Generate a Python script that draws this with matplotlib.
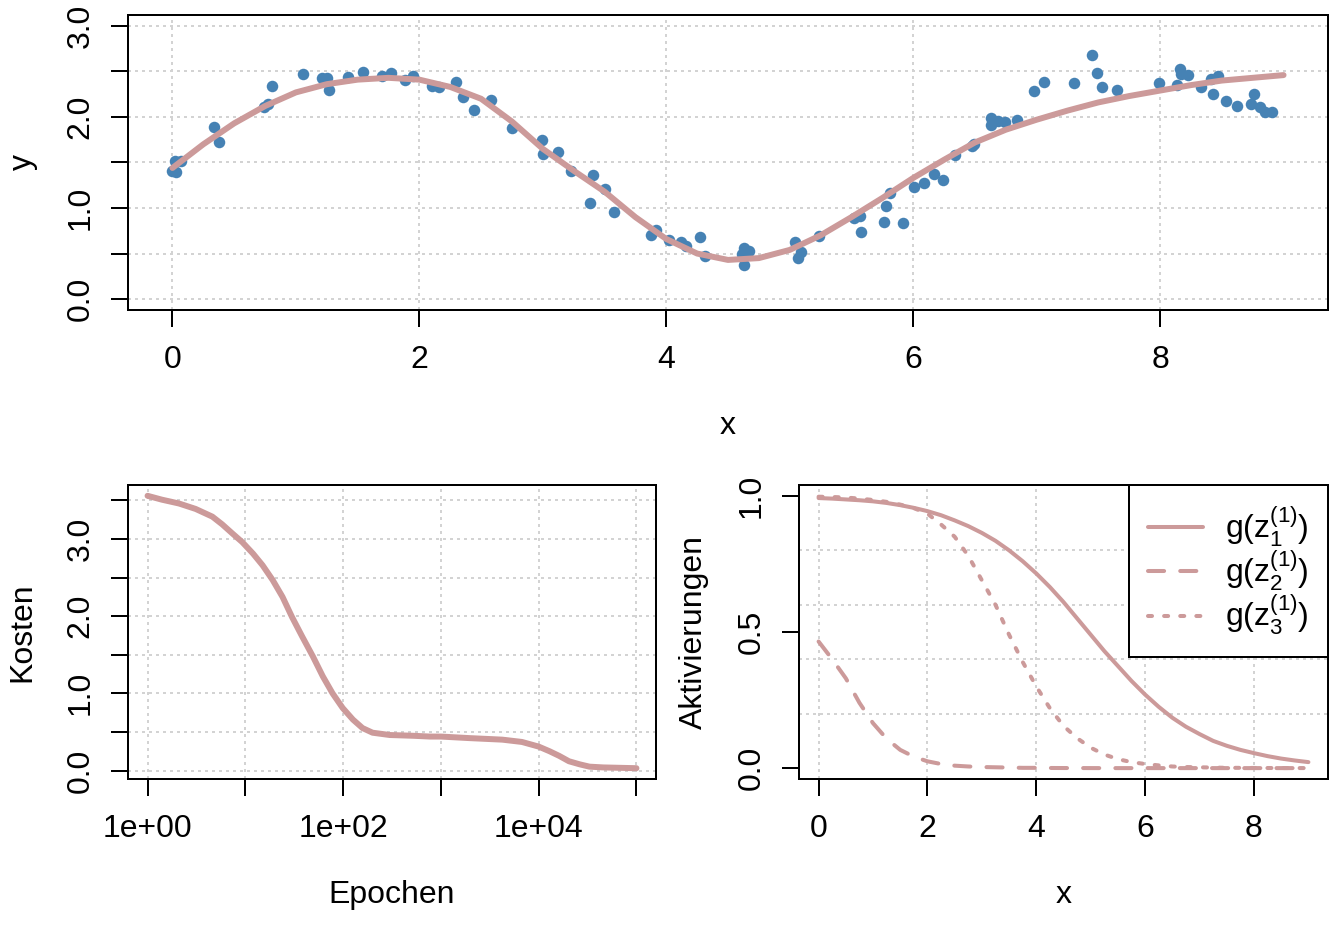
import matplotlib
matplotlib.use('Agg')
import matplotlib.pyplot as plt
import numpy as np

plt.rcParams['font.family'] = ['Liberation Sans', 'DejaVu Sans']
plt.rcParams['mathtext.fontset'] = 'custom'
plt.rcParams['mathtext.rm'] = 'Liberation Sans'
plt.rcParams['mathtext.it'] = 'Liberation Sans'
plt.rcParams['mathtext.default'] = 'regular'

# ---------------- data ----------------
# top panel: observed points
pts_x = [0.00, 0.02, 0.07, 0.03, 0.34, 0.38, 0.74, 0.77, 0.81, 1.06, 1.21, 1.25, 1.27,
         1.42, 1.54, 1.70, 1.77, 1.88, 1.95, 2.10, 2.16, 2.30, 2.35, 2.44, 2.58, 2.75,
         2.99, 3.00, 3.12, 3.23, 3.41, 3.50, 3.38, 3.58, 3.92, 3.88, 4.02, 4.12, 4.16,
         4.27, 4.31, 4.63, 4.67, 4.63, 4.61, 5.04, 5.09, 5.07, 5.24, 5.52, 5.57, 5.58,
         5.76, 5.78, 5.81, 5.92, 6.01, 6.09, 6.17, 6.24, 6.34, 6.48, 6.49, 6.63, 6.63,
         6.69, 6.74, 6.84, 6.98, 7.06, 7.30, 7.45, 7.49, 7.53, 7.65, 7.99, 8.14, 8.16,
         8.17, 8.23, 8.33, 8.41, 8.47, 8.43, 8.53, 8.62, 8.76, 8.74, 8.81, 8.85, 8.91]
pts_y = [1.41, 1.52, 1.52, 1.40, 1.89, 1.72, 2.11, 2.14, 2.34, 2.47, 2.43, 2.43, 2.30,
         2.44, 2.49, 2.45, 2.48, 2.41, 2.45, 2.34, 2.33, 2.38, 2.22, 2.08, 2.19, 1.88,
         1.75, 1.59, 1.62, 1.41, 1.36, 1.21, 1.06, 0.96, 0.76, 0.70, 0.65, 0.63, 0.58,
         0.68, 0.47, 0.56, 0.53, 0.37, 0.50, 0.63, 0.52, 0.45, 0.69, 0.89, 0.91, 0.74,
         0.85, 1.02, 1.16, 0.84, 1.23, 1.28, 1.37, 1.31, 1.58, 1.68, 1.70, 1.99, 1.91,
         1.96, 1.94, 1.97, 2.28, 2.38, 2.37, 2.68, 2.48, 2.33, 2.30, 2.37, 2.35, 2.53,
         2.47, 2.46, 2.33, 2.42, 2.45, 2.25, 2.18, 2.12, 2.25, 2.14, 2.11, 2.05, 2.05]

# top panel: fitted curve
fit_x = [0, 0.25, 0.5, 0.75, 1, 1.25, 1.5, 1.75, 2, 2.25, 2.5, 2.75, 3, 3.25, 3.5, 3.75,
         4, 4.25, 4.5, 4.75, 5, 5.25, 5.5, 5.75, 6, 6.25, 6.5, 6.75, 7, 7.25, 7.5, 7.75,
         8, 8.25, 8.5, 8.75, 9]
fit_y = [1.44, 1.70, 1.93, 2.12, 2.27, 2.36, 2.41, 2.43, 2.41, 2.33, 2.20, 1.95, 1.65,
         1.41, 1.18, 0.90, 0.66, 0.50, 0.43, 0.45, 0.54, 0.70, 0.90, 1.11, 1.33, 1.53,
         1.72, 1.86, 1.97, 2.07, 2.16, 2.23, 2.29, 2.35, 2.40, 2.43, 2.46]

# bottom left: cost over epochs
epochs = [1, 1.4, 2.1, 3.1, 4.6, 5.8, 7.4, 9.3, 12, 15, 19, 24, 30, 38, 49, 62, 78, 99,
          126, 158, 200, 300, 400, 525, 775, 1000, 1950, 4250, 6750, 10000, 12900,
          16200, 20400, 26300, 33100, 45700, 100000]
cost = [3.56, 3.51, 3.46, 3.39, 3.29, 3.19, 3.07, 2.96, 2.81, 2.66, 2.47, 2.25, 1.99,
        1.74, 1.48, 1.22, 1.00, 0.81, 0.66, 0.55, 0.49, 0.46, 0.455, 0.45, 0.44, 0.44,
        0.42, 0.40, 0.37, 0.31, 0.25, 0.19, 0.12, 0.08, 0.05, 0.04, 0.03]

# bottom right: activations
act_x = [0, 0.25, 0.5, 0.75, 1, 1.25, 1.5, 1.75, 2, 2.25, 2.5, 2.75, 3, 3.25, 3.5, 3.75,
         4, 4.25, 4.5, 4.75, 5, 5.25, 5.5, 5.75, 6, 6.25, 6.5, 6.75, 7, 7.25, 7.5, 7.75,
         8, 8.25, 8.5, 8.75, 9]
act_g1 = [0.992, 0.990, 0.987, 0.984, 0.980, 0.974, 0.966, 0.956, 0.944, 0.929, 0.910,
          0.889, 0.864, 0.835, 0.800, 0.760, 0.715, 0.665, 0.610, 0.550, 0.490, 0.430,
          0.375, 0.320, 0.270, 0.225, 0.185, 0.152, 0.125, 0.100, 0.082, 0.067, 0.055,
          0.044, 0.035, 0.028, 0.022]
act_g2 = [0.465, 0.400, 0.330, 0.240, 0.165, 0.108, 0.067, 0.042, 0.025, 0.015, 0.009,
          0.006, 0.004, 0.003, 0.002, 0.001, 0.001, 0.0005, 0.0003, 0.0002, 0.0001,
          0, 0, 0, 0, 0, 0, 0, 0, 0, 0, 0, 0, 0, 0, 0, 0]
act_g3 = [0.997, 0.996, 0.994, 0.990, 0.985, 0.978, 0.968, 0.955, 0.935, 0.895, 0.850,
          0.780, 0.690, 0.600, 0.490, 0.390, 0.300, 0.220, 0.155, 0.110, 0.075, 0.050,
          0.033, 0.022, 0.015, 0.010, 0.006, 0.004, 0.003, 0.002, 0.001, 0.001, 0.0005,
          0.0004, 0.0003, 0.0002, 0.0001]
legend_labels = [r'$g(z_1^{(1)})$', r'$g(z_2^{(1)})$', r'$g(z_3^{(1)})$']

# ---------------- style ----------------
FS = 23
COL_LINE = '#CC9A9A'
COL_PT = '#4682B4'
GRID = '#D3D3D3'
LW = 1.44
W, H = 1344, 940

fig = plt.figure(figsize=(W / 100, H / 100), dpi=100)
ax1 = fig.add_axes([128 / W, 1 - 310 / H, 1200 / W, 295 / H])
ax2 = fig.add_axes([128 / W, 1 - 779 / H, 528 / W, 294 / H])
ax3 = fig.add_axes([799 / W, 1 - 779 / H, 529 / W, 294 / H])

grid_kw = dict(color=GRID, linewidth=LW, linestyle=(0, (1.5, 2.0)))


def style(ax):
    for s in ax.spines.values():
        s.set_linewidth(LW)
        s.set_color('black')
    ax.tick_params(axis='both', which='major', direction='out', length=12, width=LW,
                   labelsize=FS)
    ax.tick_params(axis='x', pad=13)
    ax.tick_params(axis='y', pad=11.5, labelrotation=90)
    for t in ax.get_yticklabels():
        t.set_va('center')
    ax.set_axisbelow(True)


# ---- top panel ----
ax1.plot(pts_x, pts_y, 'o', ms=8.3, color=COL_PT, mec='none', zorder=3)
ax1.plot(fit_x, fit_y, color=COL_LINE, lw=4.3, solid_capstyle='round',
         solid_joinstyle='round', zorder=4)
ax1.set_xlim(-0.36, 9.36)
ax1.set_ylim(-0.12, 3.12)
ax1.set_xticks([0, 2, 4, 6, 8])
ax1.set_xticklabels(['0', '2', '4', '6', '8'])
ax1.set_yticks([0, 0.5, 1, 1.5, 2, 2.5, 3])
ax1.set_yticklabels(['0.0', '', '1.0', '', '2.0', '', '3.0'])
ax1.grid(True, **grid_kw)
style(ax1)
ax1.set_xlabel('x', fontsize=FS, labelpad=26)
ax1.set_ylabel('y', fontsize=FS, labelpad=20)

# ---- bottom left ----
ax2.plot(epochs, cost, color=COL_LINE, lw=4.3, solid_capstyle='round',
         solid_joinstyle='round')
ax2.set_xscale('log')
ax2.set_xlim(10 ** -0.2, 10 ** 5.2)
ax2.set_ylim(-0.11, 3.70)
ax2.set_xticks([1, 10, 100, 1000, 10000, 100000])
ax2.set_xticklabels(['1e+00', '', '1e+02', '', '1e+04', ''])
ax2.xaxis.set_minor_locator(matplotlib.ticker.NullLocator())
ax2.set_yticks([0, 0.5, 1, 1.5, 2, 2.5, 3, 3.5])
ax2.set_yticklabels(['0.0', '', '1.0', '', '2.0', '', '3.0', ''])
ax2.grid(True, **grid_kw)
style(ax2)
ax2.set_xlabel('Epochen', fontsize=FS, labelpad=26)
ax2.set_ylabel('Kosten', fontsize=FS, labelpad=20)

# ---- bottom right ----
l1, = ax3.plot(act_x, act_g1, color=COL_LINE, lw=2.9, solid_capstyle='round')
l2, = ax3.plot(act_x, act_g2, color=COL_LINE, lw=2.9, linestyle=(0, (4, 4)),
               dash_capstyle='round')
l3, = ax3.plot(act_x, act_g3, color=COL_LINE, lw=2.9, linestyle=(0, (1, 3)),
               dash_capstyle='round')
ax3.set_xlim(-0.36, 9.36)
ax3.set_ylim(-0.04, 1.04)
ax3.set_xticks([0, 2, 4, 6, 8])
ax3.set_xticklabels(['0', '2', '4', '6', '8'])
ax3.set_yticks([0, 0.5, 1.0])
ax3.set_yticklabels(['0.0', '0.5', '1.0'])
ax3.set_yticks(np.arange(0, 1.01, 0.2), minor=True)
ax3.tick_params(axis='y', which='minor', length=0)
ax3.xaxis.grid(True, which='major', **grid_kw)
ax3.yaxis.grid(True, which='minor', **grid_kw)
style(ax3)
ax3.set_xlabel('x', fontsize=FS, labelpad=26)
ax3.set_ylabel('Aktivierungen', fontsize=FS, labelpad=20)
leg = ax3.legend([l1, l2, l3], legend_labels, loc='upper right',
                 bbox_to_anchor=(1, 1), borderaxespad=0, fancybox=False,
                 edgecolor='black', framealpha=1, fontsize=FS, handlelength=1.7,
                 handletextpad=0.7, labelspacing=0.0, borderpad=0.6)
leg.get_frame().set_linewidth(LW)

fig.savefig('out.png', dpi=100)
